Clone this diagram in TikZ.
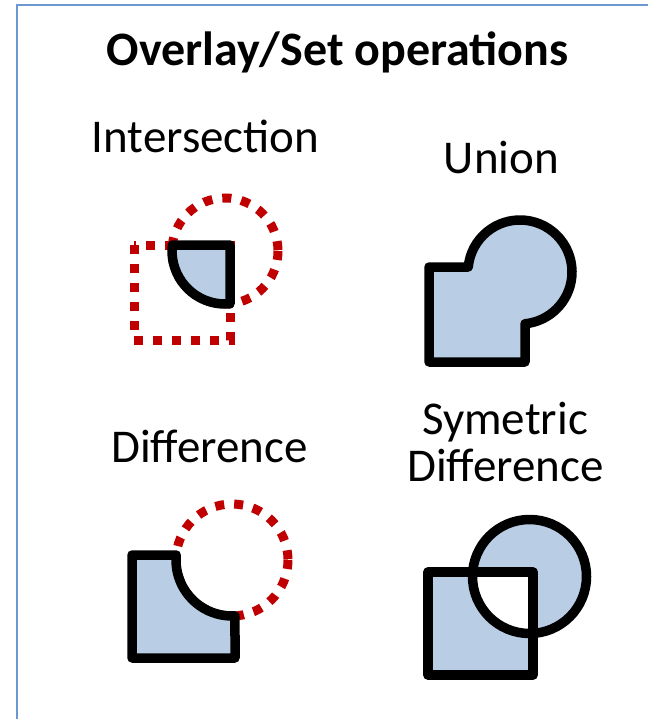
\documentclass[tikz,border=0pt]{standalone}
\usepackage{fontspec}
\setmainfont{Carlito}
\definecolor{fillblue}{HTML}{B9CDE5}
\definecolor{dotred}{HTML}{C00000}
\definecolor{framecol}{RGB}{108,152,210}
\begin{document}
\begin{tikzpicture}[x=1pt,y=-1pt,
  lbl/.style={font=\fontsize{47}{48}\selectfont, anchor=base, inner sep=0pt},
  ttl/.style={font=\bfseries\fontsize{48}{49}\selectfont, anchor=base, inner sep=0pt},
  blackline/.style={draw=black, line width=9.5pt, line join=round},
  reddot/.style={draw=dotred, line width=9pt, dash pattern=on 9pt off 10pt},
  shapefill/.style={fill=fillblue}]
\useasboundingbox (0,0) rectangle (648,719);
\fill[white] (0,0) rectangle (648,719);
% frame
\draw[framecol, line width=2.5pt] (17,719) -- (17,5) -- (648,5);

% texts
\node[ttl] (title) at (337.5,66) {Overlay/Set operations};
\node[lbl] (tinter) at (205.5,153) {Intersection};
\node[lbl] (tunion) at (501.5,174) {Union};
\node[lbl] (tdiff) at (209.5,462) {Difference};
\node[lbl] (tsym1) at (505,434) {Symetric};
\node[lbl] (tsym2) at (505.5,481) {Difference};

% Intersection
\draw[reddot] (134,245) rectangle (230,340);
\draw[reddot] (225,251) circle[radius=53];
\draw[blackline, shapefill] (172.34,245) -- (230,245) -- (230,303.76)
   arc[start angle=84.6, end angle=186.5, radius=53] -- cycle;

% Union
\draw[blackline, shapefill] (429,267) -- (468.24,267)
   arc[start angle=185.52, end angle=444.48, radius=52]
   -- (525,362) -- (429,362) -- cycle;

% Difference
\draw[reddot] (232,560) circle[radius=56];
\draw[blackline, shapefill] (132,555) -- (176.22,555)
   arc[start angle=185.12, end angle=86.93, radius=56]
   -- (235,658) -- (132,658) -- cycle;

% Symmetric difference
\fill[shapefill, even odd rule] (428,572) rectangle (533,675) (529.5,576.5) circle[radius=57];
\draw[blackline] (428,572) rectangle (533,675);
\draw[blackline] (529.5,576.5) circle[radius=57];
\end{tikzpicture}
\end{document}
